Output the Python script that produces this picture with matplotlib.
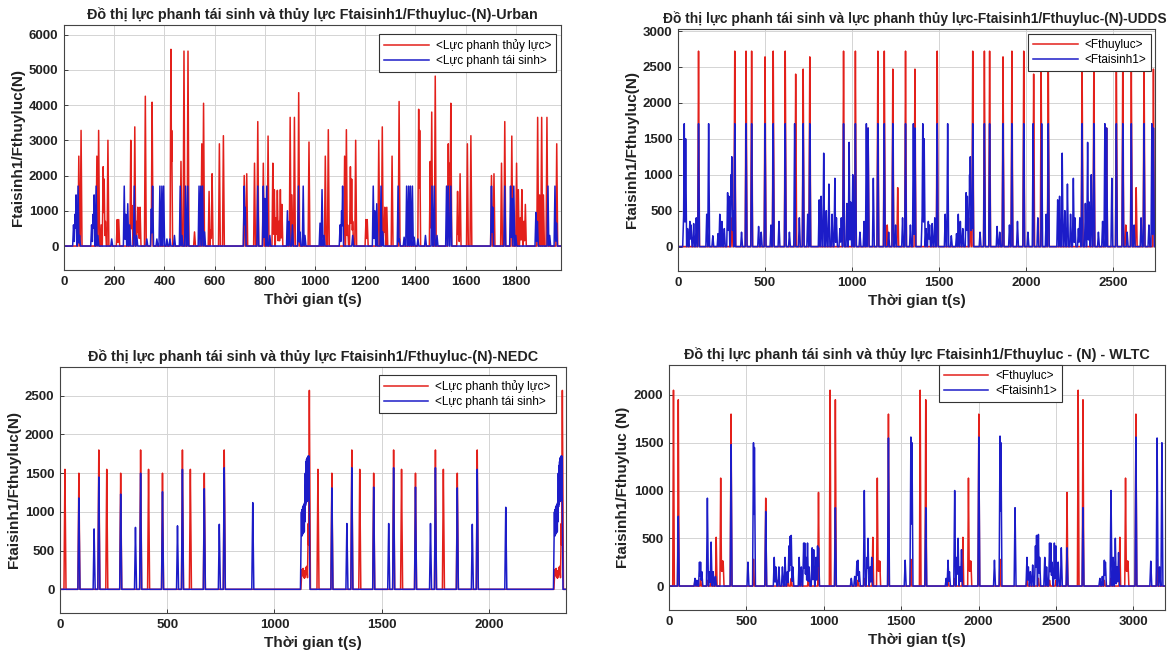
import numpy as np
import matplotlib
matplotlib.use("Agg")
import matplotlib.pyplot as plt

plt.rcParams['font.family'] = ['Liberation Sans', 'DejaVu Sans']

# ---------------- data (spike time [s], peak force [N]) ----------------
urban_red_t = [59, 68, 131, 138, 148, 156, 160, 165, 175, 212, 218, 266, 271, 282, 290, 294, 298, 303,
               324, 349, 351, 426, 429, 466, 478, 494, 520, 549, 556, 578, 585, 590, 619, 635,
               718, 728, 759, 772, 794, 813, 832, 838, 845, 850, 856, 862, 868,
               901, 908, 918, 935, 976, 1041, 1053, 1118, 1125, 1130, 1141, 1146, 1150, 1162, 1203, 1208,
               1254, 1268, 1274, 1278, 1286, 1307, 1335, 1413, 1417, 1459, 1465, 1479,
               1531, 1537, 1541, 1568, 1572, 1578, 1607, 1621, 1703, 1713, 1743, 1756, 1784, 1803,
               1810, 1818, 1824, 1832, 1838, 1887, 1895, 1903, 1910, 1924, 1963]
urban_red_f = [2550, 3280, 2550, 3280, 600, 2250, 1900, 700, 3000, 750, 750, 3000, 1150, 3380, 700, 1100, 500, 1100,
               4250, 1050, 4080, 5580, 3280, 2400, 5530, 5530, 400, 2900, 4050, 1550, 450, 2050, 2900, 3130,
               2000, 2050, 2350, 3530, 2350, 3120, 2350, 1600, 800, 1580, 700, 1600, 1180,
               3650, 1450, 3650, 4350, 2950, 2550, 3300, 2550, 3300, 600, 2250, 1900, 700, 3000, 750, 750,
               3000, 3380, 700, 1100, 1100, 2550, 4100, 3880, 3280, 2400, 3800, 4820,
               2900, 2350, 4050, 1550, 450, 2050, 2900, 3130, 2000, 2050, 2350, 3530, 3120, 2350,
               1600, 800, 1600, 700, 1180, 3650, 1450, 3650, 1450, 3650, 2900]

urban_blue_t = [38, 44, 48, 56, 62, 110, 116, 120, 128, 135, 190, 240, 246, 254, 262, 280, 290, 330, 348, 353,
                370, 382, 390, 397, 410, 422, 440, 463, 470, 484, 493, 538, 545, 552, 560,
                718, 722, 772, 794, 800, 808, 820, 890, 897, 910, 934, 940, 953, 960,
                1020, 1028, 1036, 1100, 1106, 1110, 1150, 1232, 1238, 1246, 1263, 1270,
                1331, 1336, 1355, 1365, 1373, 1380, 1388, 1395, 1410, 1440, 1466, 1475, 1486,
                1524, 1531, 1541, 1703, 1708, 1756, 1779, 1785, 1792, 1800, 1880, 1886, 1928, 1935, 1956, 1962]
urban_blue_f = [600, 900, 1450, 1700, 300, 600, 900, 1450, 1700, 300, 200, 1700, 900, 1200, 600, 1700, 300, 200, 1050, 1700,
                200, 1700, 1700, 1700, 200, 200, 300, 1700, 300, 1700, 1700, 1700, 1700, 1700, 400,
                1700, 1100, 1700, 1700, 1350, 1700, 300, 1000, 700, 600, 1700, 400, 1700, 300,
                650, 1600, 300, 600, 1000, 1700, 300, 1700, 1000, 1200, 1700, 400,
                1700, 200, 250, 1700, 1700, 1700, 1700, 250, 200, 300, 1700, 1700, 300,
                1700, 1700, 1700, 1700, 1100, 1700, 1700, 1350, 1700, 300, 950, 700, 1700, 300, 1700, 650]

udds_red_t = [118, 310, 326, 391, 423, 500, 547, 616, 676, 719, 757, 951, 1019, 1092, 1148, 1185, 1202, 1234,
              1262, 1307, 1361, 1489, 1680, 1693, 1760, 1790, 1867, 1918, 1986, 2043, 2086, 2127, 2321, 2389,
              2462, 2518, 2555, 2572, 2604, 2632, 2677, 2731]
udds_red_f = [2720, 400, 2720, 2720, 2720, 2640, 2720, 2720, 2400, 2470, 2640, 2720, 2720, 1650, 2720, 2720, 300, 2470,
              820, 2720, 2470, 2720, 400, 2720, 2720, 2720, 2640, 2720, 2720, 2400, 2470, 2640, 2720, 2720,
              1650, 2720, 2720, 300, 2470, 820, 2720, 2470]

udds_blue_t = [32, 36, 44, 55, 68, 75, 90, 105, 118, 165, 176, 200, 230, 240, 252, 266, 285, 292, 305, 309, 316,
               326, 365, 391, 423, 463, 478, 500, 534, 547, 580, 616, 640, 670, 697, 719, 745, 757,
               811, 822, 837, 852, 867, 885, 901, 910, 930, 938, 951, 970, 983, 992, 1004, 1019, 1045, 1069,
               1082, 1092, 1122, 1148, 1185, 1210, 1234, 1250, 1290, 1307, 1335, 1352, 1361,
               1402, 1406, 1414, 1425, 1438, 1445, 1460, 1475, 1489, 1535, 1549, 1570, 1600, 1610, 1622, 1636,
               1655, 1662, 1675, 1679, 1686, 1693, 1735, 1760, 1790, 1833, 1848, 1867, 1904, 1918, 1950, 1986,
               2010, 2040, 2067, 2089, 2115, 2127, 2181, 2192, 2207, 2222, 2237, 2255, 2271, 2280, 2300, 2308,
               2321, 2340, 2353, 2362, 2374, 2389, 2415, 2439, 2452, 2462, 2492, 2518, 2555, 2580, 2604,
               2620, 2660, 2677, 2705, 2722, 2731]
udds_blue_f = [400, 1710, 1500, 250, 350, 300, 320, 400, 1710, 450, 1710, 150, 180, 450, 350, 250, 750, 700, 1000, 1250, 500,
               1710, 200, 1710, 1710, 280, 200, 1710, 300, 1710, 350, 1710, 200, 1710, 400, 1710, 450, 1710,
               650, 700, 1300, 500, 870, 450, 950, 400, 250, 400, 1710, 600, 1450, 620, 1000, 1710, 200, 350,
               1710, 1650, 950, 1710, 1710, 200, 1710, 300, 400, 1710, 300, 1710, 1650,
               400, 1710, 1500, 250, 350, 300, 320, 400, 1710, 450, 1710, 150, 180, 450, 350, 250,
               750, 700, 1000, 1250, 500, 1710, 200, 1710, 1710, 280, 200, 1710, 300, 1710, 350, 1710,
               200, 1710, 400, 1710, 450, 1710, 650, 700, 1300, 500, 870, 450, 950, 400, 250, 400,
               1710, 600, 1450, 620, 1000, 1710, 200, 350, 1710, 1650, 950, 1710, 1710, 200, 1710,
               300, 400, 1710, 300, 1710, 1650]

nedc_red_t = [23, 88, 181, 218, 283, 376, 413, 478, 571, 608, 673, 766, 1128, 1131, 1134, 1137, 1140, 1143, 1146,
              1149, 1152, 1158, 1163, 1203, 1268, 1361, 1398, 1463, 1556, 1593, 1658, 1751, 1788, 1853, 1946,
              2308, 2311, 2314, 2317, 2320, 2323, 2326, 2329, 2332, 2338, 2343]
nedc_red_f = [1550, 1500, 1800, 1550, 1500, 1800, 1550, 1500, 1800, 1550, 1500, 1800, 250, 260, 270, 240, 200, 240, 280,
              290, 300, 850, 2570, 1550, 1500, 1800, 1550, 1500, 1800, 1550, 1500, 1800, 1550, 1500, 1800,
              250, 260, 270, 240, 200, 240, 280, 290, 300, 850, 2570]

nedc_blue_t = [88, 159, 181, 283, 352, 376, 478, 548, 571, 673, 743, 766, 899,
               1126, 1129, 1132, 1135, 1138, 1141, 1144, 1147, 1150, 1153, 1156, 1159, 1161,
               1268, 1338, 1361, 1463, 1533, 1556, 1658, 1728, 1751, 1853, 1923, 1946, 2079,
               2306, 2309, 2312, 2315, 2318, 2321, 2324, 2327, 2330, 2333, 2336, 2339, 2341]
nedc_blue_f = [1180, 780, 1450, 1230, 800, 1500, 1260, 820, 1550, 1300, 840, 1570, 1120,
               1000, 1030, 1060, 1080, 1100, 1120, 1500, 1650, 1680, 1700, 1720, 1720, 1720,
               1310, 850, 1570, 1320, 850, 1570, 1320, 850, 1570, 1310, 840, 1550, 1060,
               1000, 1030, 1060, 1080, 1100, 1120, 1500, 1600, 1650, 1700, 1720, 1720, 1720]

wltc_red_t = [29, 60, 168, 204, 250, 272, 305, 334, 338, 342, 346, 350, 401, 546, 625, 700, 769, 790, 850, 900,
              966, 1041, 1075, 1221, 1262, 1317, 1346, 1350, 1354, 1358, 1362, 1418, 1563, 1623, 1659,
              1803, 1846, 1899, 1935, 1939, 1943, 1947, 1951, 2002, 2139, 2313, 2387, 2459, 2500, 2572,
              2644, 2675, 2813, 2856, 2913, 2950, 2954, 2958, 2962, 2966, 3017, 3154]
wltc_red_f = [2050, 1950, 60, 80, 60, 80, 510, 1130, 260, 260, 260, 260, 1800, 280, 920, 60, 80, 80, 60, 60,
              980, 2050, 1950, 60, 80, 510, 1130, 260, 260, 260, 260, 1800, 280, 2050, 1950,
              60, 80, 510, 1130, 260, 260, 260, 260, 1800, 280, 60, 80, 60, 60, 980,
              2050, 1950, 60, 80, 510, 1130, 260, 260, 260, 260, 1800, 280]

wltc_blue_t = [60, 168, 180, 197, 204, 212, 248, 262, 272, 285, 300, 401, 510, 546, 552, 625, 680, 690, 710,
               733, 750, 765, 775, 783, 790, 800, 841, 855, 870, 877, 885, 895, 905, 925, 935, 950, 960, 966,
               1075, 1178, 1200, 1214, 1221, 1230, 1262, 1280, 1286, 1300, 1310, 1418, 1526, 1563, 1570,
               1659, 1791, 1803, 1812, 1846, 1860, 1868, 1880, 1890, 2002, 2103, 2139, 2145, 2236,
               2313, 2322, 2335, 2350, 2368, 2375, 2387, 2395, 2428, 2440, 2459, 2467, 2475, 2490, 2500,
               2515, 2535, 2572, 2675, 2784, 2800, 2813, 2820, 2856, 2870, 2884, 2895, 2905, 3017,
               3113, 3154, 3170, 3185]
wltc_blue_f = [730, 80, 60, 250, 250, 150, 920, 150, 460, 150, 100, 1480, 250, 1500, 1450, 780, 300, 200, 200,
               200, 300, 150, 420, 520, 530, 200, 300, 200, 450, 450, 300, 450, 200, 400, 380, 300, 420, 400,
               820, 80, 100, 260, 270, 150, 1000, 300, 500, 200, 300, 1550, 270, 1560, 1500,
               820, 80, 270, 150, 1000, 300, 500, 200, 380, 1560, 270, 1570, 1500, 820,
               300, 200, 150, 220, 420, 530, 540, 300, 300, 200, 450, 450, 250, 450, 420,
               250, 400, 400, 820, 80, 100, 270, 250, 1000, 300, 500, 200, 350, 1560,
               260, 1550, 200, 1500]

RED = '#e3201b'
BLUE = '#1c1cc8'
W, H = 1171, 653


def pulse_series(times, forces, tmax, halfwidth, dt=0.25):
    t = np.arange(0.0, tmax + dt, dt)
    y = np.zeros_like(t)
    for tc, f in zip(times, forces):
        y = np.maximum(y, f * np.clip(1.0 - np.abs(t - tc) / halfwidth, 0.0, None))
    return t, y


panels = [
    dict(rect=(64, 25, 561, 270), xlim=(0, 1980), ylim=(-680, 6270),
         xticks=np.arange(0, 1801, 200), yticks=np.arange(0, 6001, 1000),
         title='Đồ thị lực phanh tái sinh và thủy lực Ftaisinh1/Fthuyluc-(N)-Urban', tsize=10.4, tx=None,
         ylabel='Ftaisinh1/Fthuyluc(N)',
         leg=('<Lực phanh thủy lực>', '<Lực phanh tái sinh>'), anchor=(0.634, 0.963),
         red=(urban_red_t, urban_red_f), blue=(urban_blue_t, urban_blue_f), hw=(3.5, 3.5)),
    dict(rect=(678, 29, 1155, 271), xlim=(0, 2740), ylim=(-340, 3028),
         xticks=np.arange(0, 2501, 500), yticks=np.arange(0, 3001, 500),
         title='Đồ thị lực phanh tái sinh và lực phanh thủy lực-Ftaisinh1/Fthuyluc-(N)-UDDS', tsize=9.9, tx=-0.031,
         ylabel='Ftaisinh1/Fthuyluc(N)',
         leg=('<Fthuyluc>', '<Ftaisinh1>'), anchor=(0.734, 0.979),
         red=(udds_red_t, udds_red_f), blue=(udds_blue_t, udds_blue_f), hw=(5, 5)),
    dict(rect=(60, 367, 566, 613), xlim=(0, 2360), ylim=(-306, 2872),
         xticks=np.arange(0, 2001, 500), yticks=np.arange(0, 2501, 500),
         title='Đồ thị lực phanh tái sinh và thủy lực Ftaisinh1/Fthuyluc-(N)-NEDC', tsize=10.4, tx=None,
         ylabel='Ftaisinh1/Fthuyluc(N)',
         leg=('<Lực phanh thủy lực>', '<Lực phanh tái sinh>'), anchor=(0.630, 0.967),
         red=(nedc_red_t, nedc_red_f), blue=(nedc_blue_t, nedc_blue_f), hw=(4.5, 4.5)),
    dict(rect=(669, 365, 1165, 610), xlim=(0, 3205), ylim=(-251, 2314),
         xticks=np.arange(0, 3001, 500), yticks=np.arange(0, 2001, 500),
         title='Đồ thị lực phanh tái sinh và thủy lực Ftaisinh1/Fthuyluc - (N) - WLTC', tsize=10.4, tx=None,
         ylabel='Ftaisinh1/Fthuyluc (N)',
         leg=('<Fthuyluc>', '<Ftaisinh1>'), anchor=(0.544, 1.0),
         red=(wltc_red_t, wltc_red_f), blue=(wltc_blue_t, wltc_blue_f), hw=(5, 6)),
]

fig = plt.figure(figsize=(W / 100, H / 100), dpi=100)

for p in panels:
    l, t, r, b = p['rect']
    ax = fig.add_axes([l / W, 1 - b / H, (r - l) / W, (b - t) / H])
    tmax = p['xlim'][1]
    tr, yr = pulse_series(*p['red'], tmax, p['hw'][0])
    tb, yb = pulse_series(*p['blue'], tmax, p['hw'][1])
    ax.plot(tr, yr, color=RED, lw=1.1, label=p['leg'][0])
    ax.plot(tb, yb, color=BLUE, lw=1.1, label=p['leg'][1])
    ax.set_xlim(*p['xlim'])
    ax.set_ylim(*p['ylim'])
    ax.set_xticks(p['xticks'])
    ax.set_yticks(p['yticks'])
    ax.grid(True, color='#d4d4d4', lw=0.7)
    ax.set_axisbelow(True)
    ax.tick_params(direction='in', length=3, width=0.6, labelsize=9.5, colors='#222222', pad=4)
    for lab in ax.get_xticklabels() + ax.get_yticklabels():
        lab.set_fontweight('bold')
    for s in ax.spines.values():
        s.set_color('#444444')
        s.set_linewidth(0.8)
    ttl = ax.set_title(p['title'], fontsize=p['tsize'], fontweight='bold', color='#222222', pad=4)
    if p['tx'] is not None:
        ttl.set_horizontalalignment('left')
        ttl.set_x(p['tx'])
    ax.set_xlabel('Thời gian t(s)', fontsize=11, fontweight='bold', color='#222222', labelpad=4)
    ax.set_ylabel(p['ylabel'], fontsize=11, fontweight='bold', color='#222222', labelpad=3)
    leg = ax.legend(loc='upper left', bbox_to_anchor=p['anchor'], borderaxespad=0, fontsize=8.5,
                    fancybox=False, framealpha=1, edgecolor='#333333', handlelength=3.8,
                    handletextpad=0.6, borderpad=0.4, labelspacing=0.3)
    leg.get_frame().set_linewidth(0.8)

fig.savefig('out.png', dpi=100)
